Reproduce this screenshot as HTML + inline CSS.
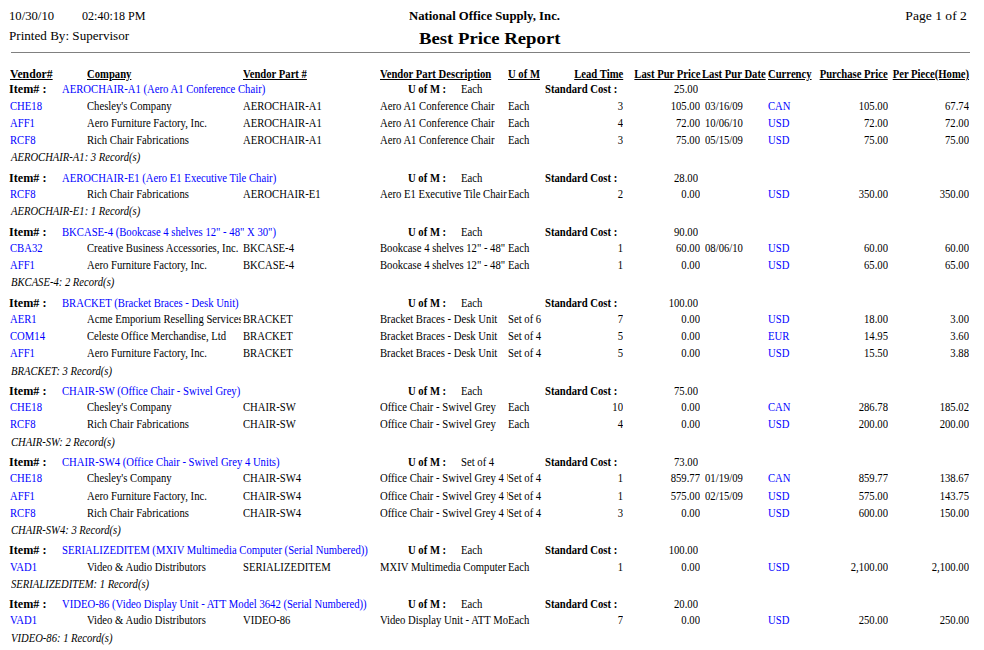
<!DOCTYPE html>
<html><head><meta charset="utf-8"><title>Best Price Report</title>
<style>
html,body{margin:0;padding:0;background:#fff}
body{width:984px;height:650px;overflow:hidden;position:relative;font-family:"Liberation Serif",serif;font-size:12px;line-height:12px;color:#000}
.t{position:absolute;white-space:pre}
.c{position:absolute;overflow:hidden}
.l{position:absolute}
</style></head><body>
<span class="t" style="left:8.5px;top:9.11px;font-size:13px;line-height:13px;transform:scaleX(0.975);transform-origin:0 0">10/30/10</span>
<span class="t" style="left:82px;top:9.11px;font-size:13px;line-height:13px;transform:scaleX(0.93);transform-origin:0 0">02:40:18 PM</span>
<span class="t" style="left:9px;top:29.11px;font-size:13px;line-height:13px;transform:scaleX(1.008);transform-origin:0 0">Printed By: Supervisor</span>
<span class="t" style="left:409px;top:9.11px;font-weight:bold;font-size:13px;line-height:13px;transform:scaleX(0.979);transform-origin:0 0">National Office Supply, Inc.</span>
<span class="t" style="left:419px;top:30.98px;font-weight:bold;font-size:16.5px;line-height:16.5px;transform:scaleX(1.135);transform-origin:0 0">Best Price Report</span>
<span class="t" style="right:17.5px;top:9.11px;font-size:13px;line-height:13px;transform:scaleX(1.045);transform-origin:100% 0">Page 1 of 2</span>
<div class="l" style="left:11px;top:52px;width:959px;height:1px;background:#808080"></div>
<span class="t" style="left:10px;top:67.95px;font-weight:bold;text-decoration:underline;transform:scaleX(0.978);transform-origin:0 0">Vendor#</span>
<span class="t" style="left:87px;top:67.95px;font-weight:bold;text-decoration:underline;transform:scaleX(0.8875);transform-origin:0 0">Company</span>
<span class="t" style="left:243px;top:67.95px;font-weight:bold;text-decoration:underline;transform:scaleX(0.8875);transform-origin:0 0">Vendor Part #</span>
<span class="t" style="left:380px;top:67.95px;font-weight:bold;text-decoration:underline;transform:scaleX(0.8875);transform-origin:0 0">Vendor Part Description</span>
<span class="t" style="left:508px;top:67.95px;font-weight:bold;text-decoration:underline;transform:scaleX(0.8875);transform-origin:0 0">U of M</span>
<span class="t" style="right:361px;top:67.95px;font-weight:bold;text-decoration:underline;transform:scaleX(0.8875);transform-origin:100% 0">Lead Time</span>
<span class="t" style="right:283.5px;top:67.95px;font-weight:bold;text-decoration:underline;transform:scaleX(0.8875);transform-origin:100% 0">Last Pur Price</span>
<span class="t" style="left:702px;top:67.95px;font-weight:bold;text-decoration:underline;transform:scaleX(0.8875);transform-origin:0 0">Last Pur Date</span>
<span class="t" style="left:768px;top:67.95px;font-weight:bold;text-decoration:underline;transform:scaleX(0.8875);transform-origin:0 0">Currency</span>
<span class="t" style="right:96px;top:67.95px;font-weight:bold;text-decoration:underline;transform:scaleX(0.8875);transform-origin:100% 0">Purchase Price</span>
<span class="t" style="right:15px;top:67.95px;font-weight:bold;text-decoration:underline;transform:scaleX(0.8875);transform-origin:100% 0">Per Piece(Home)</span>
<div class="l" style="left:699px;top:79px;width:4px;height:1px;background:#000"></div>
<span class="t" style="left:9px;top:82.95px;font-weight:bold;transform:scaleX(1.013);transform-origin:0 0">Item# :</span>
<span class="t" style="left:62px;top:82.95px;color:#0000ff;transform:scaleX(0.889);transform-origin:0 0">AEROCHAIR-A1 (Aero A1 Conference Chair)</span>
<span class="t" style="left:408px;top:82.95px;font-weight:bold;transform:scaleX(0.8875);transform-origin:0 0">U of M :</span>
<span class="t" style="left:461px;top:82.95px;;transform:scaleX(0.889);transform-origin:0 0">Each</span>
<span class="t" style="left:545px;top:82.95px;font-weight:bold;transform:scaleX(0.8875);transform-origin:0 0">Standard Cost :</span>
<span class="t" style="right:286px;top:82.95px;;transform:scaleX(0.889);transform-origin:100% 0">25.00</span>
<span class="t" style="left:10px;top:99.95px;color:#0000ff;transform:scaleX(0.889);transform-origin:0 0">CHE18</span>
<div class="c" style="left:87px;top:99.95px;width:154px;height:16px"><span class="t" style=";transform:scaleX(0.889);transform-origin:0 0;left:0;top:0">Chesley's Company</span></div>
<div class="c" style="left:243px;top:99.95px;width:137px;height:16px"><span class="t" style=";transform:scaleX(0.889);transform-origin:0 0;left:0;top:0">AEROCHAIR-A1</span></div>
<div class="c" style="left:380px;top:99.95px;width:127.5px;height:16px"><span class="t" style=";transform:scaleX(0.889);transform-origin:0 0;left:0;top:0">Aero A1 Conference Chair</span></div>
<span class="t" style="left:508px;top:99.95px;;transform:scaleX(0.889);transform-origin:0 0">Each</span>
<span class="t" style="right:361px;top:99.95px;;transform:scaleX(0.889);transform-origin:100% 0">3</span>
<span class="t" style="right:284px;top:99.95px;;transform:scaleX(0.889);transform-origin:100% 0">105.00</span>
<span class="t" style="left:705px;top:99.95px;;transform:scaleX(0.889);transform-origin:0 0">03/16/09</span>
<span class="t" style="left:768px;top:99.95px;color:#0000ff;transform:scaleX(0.889);transform-origin:0 0">CAN</span>
<span class="t" style="right:96px;top:99.95px;;transform:scaleX(0.889);transform-origin:100% 0">105.00</span>
<span class="t" style="right:15px;top:99.95px;;transform:scaleX(0.889);transform-origin:100% 0">67.74</span>
<span class="t" style="left:10px;top:116.95px;color:#0000ff;transform:scaleX(0.889);transform-origin:0 0">AFF1</span>
<div class="c" style="left:87px;top:116.95px;width:154px;height:16px"><span class="t" style=";transform:scaleX(0.889);transform-origin:0 0;left:0;top:0">Aero Furniture Factory, Inc.</span></div>
<div class="c" style="left:243px;top:116.95px;width:137px;height:16px"><span class="t" style=";transform:scaleX(0.889);transform-origin:0 0;left:0;top:0">AEROCHAIR-A1</span></div>
<div class="c" style="left:380px;top:116.95px;width:127.5px;height:16px"><span class="t" style=";transform:scaleX(0.889);transform-origin:0 0;left:0;top:0">Aero A1 Conference Chair</span></div>
<span class="t" style="left:508px;top:116.95px;;transform:scaleX(0.889);transform-origin:0 0">Each</span>
<span class="t" style="right:361px;top:116.95px;;transform:scaleX(0.889);transform-origin:100% 0">4</span>
<span class="t" style="right:284px;top:116.95px;;transform:scaleX(0.889);transform-origin:100% 0">72.00</span>
<span class="t" style="left:705px;top:116.95px;;transform:scaleX(0.889);transform-origin:0 0">10/06/10</span>
<span class="t" style="left:768px;top:116.95px;color:#0000ff;transform:scaleX(0.889);transform-origin:0 0">USD</span>
<span class="t" style="right:96px;top:116.95px;;transform:scaleX(0.889);transform-origin:100% 0">72.00</span>
<span class="t" style="right:15px;top:116.95px;;transform:scaleX(0.889);transform-origin:100% 0">72.00</span>
<span class="t" style="left:10px;top:133.95px;color:#0000ff;transform:scaleX(0.889);transform-origin:0 0">RCF8</span>
<div class="c" style="left:87px;top:133.95px;width:154px;height:16px"><span class="t" style=";transform:scaleX(0.889);transform-origin:0 0;left:0;top:0">Rich Chair Fabrications</span></div>
<div class="c" style="left:243px;top:133.95px;width:137px;height:16px"><span class="t" style=";transform:scaleX(0.889);transform-origin:0 0;left:0;top:0">AEROCHAIR-A1</span></div>
<div class="c" style="left:380px;top:133.95px;width:127.5px;height:16px"><span class="t" style=";transform:scaleX(0.889);transform-origin:0 0;left:0;top:0">Aero A1 Conference Chair</span></div>
<span class="t" style="left:508px;top:133.95px;;transform:scaleX(0.889);transform-origin:0 0">Each</span>
<span class="t" style="right:361px;top:133.95px;;transform:scaleX(0.889);transform-origin:100% 0">3</span>
<span class="t" style="right:284px;top:133.95px;;transform:scaleX(0.889);transform-origin:100% 0">75.00</span>
<span class="t" style="left:705px;top:133.95px;;transform:scaleX(0.889);transform-origin:0 0">05/15/09</span>
<span class="t" style="left:768px;top:133.95px;color:#0000ff;transform:scaleX(0.889);transform-origin:0 0">USD</span>
<span class="t" style="right:96px;top:133.95px;;transform:scaleX(0.889);transform-origin:100% 0">75.00</span>
<span class="t" style="right:15px;top:133.95px;;transform:scaleX(0.889);transform-origin:100% 0">75.00</span>
<span class="t" style="left:10.5px;top:150.95px;font-style:italic;transform:scaleX(0.884);transform-origin:0 0">AEROCHAIR-A1: 3 Record(s)</span>
<span class="t" style="left:9px;top:171.95px;font-weight:bold;transform:scaleX(1.013);transform-origin:0 0">Item# :</span>
<span class="t" style="left:62px;top:171.95px;color:#0000ff;transform:scaleX(0.889);transform-origin:0 0">AEROCHAIR-E1 (Aero E1 Executive Tile Chair)</span>
<span class="t" style="left:408px;top:171.95px;font-weight:bold;transform:scaleX(0.8875);transform-origin:0 0">U of M :</span>
<span class="t" style="left:461px;top:171.95px;;transform:scaleX(0.889);transform-origin:0 0">Each</span>
<span class="t" style="left:545px;top:171.95px;font-weight:bold;transform:scaleX(0.8875);transform-origin:0 0">Standard Cost :</span>
<span class="t" style="right:286px;top:171.95px;;transform:scaleX(0.889);transform-origin:100% 0">28.00</span>
<span class="t" style="left:10px;top:187.95px;color:#0000ff;transform:scaleX(0.889);transform-origin:0 0">RCF8</span>
<div class="c" style="left:87px;top:187.95px;width:154px;height:16px"><span class="t" style=";transform:scaleX(0.889);transform-origin:0 0;left:0;top:0">Rich Chair Fabrications</span></div>
<div class="c" style="left:243px;top:187.95px;width:137px;height:16px"><span class="t" style=";transform:scaleX(0.889);transform-origin:0 0;left:0;top:0">AEROCHAIR-E1</span></div>
<div class="c" style="left:380px;top:187.95px;width:127.5px;height:16px"><span class="t" style=";transform:scaleX(0.889);transform-origin:0 0;left:0;top:0">Aero E1 Executive Tile Chair</span></div>
<span class="t" style="left:508px;top:187.95px;;transform:scaleX(0.889);transform-origin:0 0">Each</span>
<span class="t" style="right:361px;top:187.95px;;transform:scaleX(0.889);transform-origin:100% 0">2</span>
<span class="t" style="right:284px;top:187.95px;;transform:scaleX(0.889);transform-origin:100% 0">0.00</span>
<span class="t" style="left:768px;top:187.95px;color:#0000ff;transform:scaleX(0.889);transform-origin:0 0">USD</span>
<span class="t" style="right:96px;top:187.95px;;transform:scaleX(0.889);transform-origin:100% 0">350.00</span>
<span class="t" style="right:15px;top:187.95px;;transform:scaleX(0.889);transform-origin:100% 0">350.00</span>
<span class="t" style="left:10.5px;top:204.95px;font-style:italic;transform:scaleX(0.884);transform-origin:0 0">AEROCHAIR-E1: 1 Record(s)</span>
<span class="t" style="left:9px;top:225.95px;font-weight:bold;transform:scaleX(1.013);transform-origin:0 0">Item# :</span>
<span class="t" style="left:62px;top:225.95px;color:#0000ff;transform:scaleX(0.889);transform-origin:0 0">BKCASE-4 (Bookcase 4 shelves 12" - 48" X 30")</span>
<span class="t" style="left:408px;top:225.95px;font-weight:bold;transform:scaleX(0.8875);transform-origin:0 0">U of M :</span>
<span class="t" style="left:461px;top:225.95px;;transform:scaleX(0.889);transform-origin:0 0">Each</span>
<span class="t" style="left:545px;top:225.95px;font-weight:bold;transform:scaleX(0.8875);transform-origin:0 0">Standard Cost :</span>
<span class="t" style="right:286px;top:225.95px;;transform:scaleX(0.889);transform-origin:100% 0">90.00</span>
<span class="t" style="left:10px;top:241.95px;color:#0000ff;transform:scaleX(0.889);transform-origin:0 0">CBA32</span>
<div class="c" style="left:87px;top:241.95px;width:154px;height:16px"><span class="t" style=";transform:scaleX(0.889);transform-origin:0 0;left:0;top:0">Creative Business Accessories, Inc.</span></div>
<div class="c" style="left:243px;top:241.95px;width:137px;height:16px"><span class="t" style=";transform:scaleX(0.889);transform-origin:0 0;left:0;top:0">BKCASE-4</span></div>
<div class="c" style="left:380px;top:241.95px;width:127.5px;height:16px"><span class="t" style=";transform:scaleX(0.889);transform-origin:0 0;left:0;top:0">Bookcase 4 shelves 12" - 48" X 30"</span></div>
<span class="t" style="left:508px;top:241.95px;;transform:scaleX(0.889);transform-origin:0 0">Each</span>
<span class="t" style="right:361px;top:241.95px;;transform:scaleX(0.889);transform-origin:100% 0">1</span>
<span class="t" style="right:284px;top:241.95px;;transform:scaleX(0.889);transform-origin:100% 0">60.00</span>
<span class="t" style="left:705px;top:241.95px;;transform:scaleX(0.889);transform-origin:0 0">08/06/10</span>
<span class="t" style="left:768px;top:241.95px;color:#0000ff;transform:scaleX(0.889);transform-origin:0 0">USD</span>
<span class="t" style="right:96px;top:241.95px;;transform:scaleX(0.889);transform-origin:100% 0">60.00</span>
<span class="t" style="right:15px;top:241.95px;;transform:scaleX(0.889);transform-origin:100% 0">60.00</span>
<span class="t" style="left:10px;top:258.95px;color:#0000ff;transform:scaleX(0.889);transform-origin:0 0">AFF1</span>
<div class="c" style="left:87px;top:258.95px;width:154px;height:16px"><span class="t" style=";transform:scaleX(0.889);transform-origin:0 0;left:0;top:0">Aero Furniture Factory, Inc.</span></div>
<div class="c" style="left:243px;top:258.95px;width:137px;height:16px"><span class="t" style=";transform:scaleX(0.889);transform-origin:0 0;left:0;top:0">BKCASE-4</span></div>
<div class="c" style="left:380px;top:258.95px;width:127.5px;height:16px"><span class="t" style=";transform:scaleX(0.889);transform-origin:0 0;left:0;top:0">Bookcase 4 shelves 12" - 48" X 30"</span></div>
<span class="t" style="left:508px;top:258.95px;;transform:scaleX(0.889);transform-origin:0 0">Each</span>
<span class="t" style="right:361px;top:258.95px;;transform:scaleX(0.889);transform-origin:100% 0">1</span>
<span class="t" style="right:284px;top:258.95px;;transform:scaleX(0.889);transform-origin:100% 0">0.00</span>
<span class="t" style="left:768px;top:258.95px;color:#0000ff;transform:scaleX(0.889);transform-origin:0 0">USD</span>
<span class="t" style="right:96px;top:258.95px;;transform:scaleX(0.889);transform-origin:100% 0">65.00</span>
<span class="t" style="right:15px;top:258.95px;;transform:scaleX(0.889);transform-origin:100% 0">65.00</span>
<span class="t" style="left:10.5px;top:275.95px;font-style:italic;transform:scaleX(0.884);transform-origin:0 0">BKCASE-4: 2 Record(s)</span>
<span class="t" style="left:9px;top:296.95px;font-weight:bold;transform:scaleX(1.013);transform-origin:0 0">Item# :</span>
<span class="t" style="left:62px;top:296.95px;color:#0000ff;transform:scaleX(0.889);transform-origin:0 0">BRACKET (Bracket Braces - Desk Unit)</span>
<span class="t" style="left:408px;top:296.95px;font-weight:bold;transform:scaleX(0.8875);transform-origin:0 0">U of M :</span>
<span class="t" style="left:461px;top:296.95px;;transform:scaleX(0.889);transform-origin:0 0">Each</span>
<span class="t" style="left:545px;top:296.95px;font-weight:bold;transform:scaleX(0.8875);transform-origin:0 0">Standard Cost :</span>
<span class="t" style="right:286px;top:296.95px;;transform:scaleX(0.889);transform-origin:100% 0">100.00</span>
<span class="t" style="left:10px;top:312.95px;color:#0000ff;transform:scaleX(0.889);transform-origin:0 0">AER1</span>
<div class="c" style="left:87px;top:312.95px;width:154px;height:16px"><span class="t" style=";transform:scaleX(0.889);transform-origin:0 0;left:0;top:0">Acme Emporium Reselling Services</span></div>
<div class="c" style="left:243px;top:312.95px;width:137px;height:16px"><span class="t" style=";transform:scaleX(0.889);transform-origin:0 0;left:0;top:0">BRACKET</span></div>
<div class="c" style="left:380px;top:312.95px;width:127.5px;height:16px"><span class="t" style=";transform:scaleX(0.889);transform-origin:0 0;left:0;top:0">Bracket Braces - Desk Unit</span></div>
<span class="t" style="left:508px;top:312.95px;;transform:scaleX(0.889);transform-origin:0 0">Set of 6</span>
<span class="t" style="right:361px;top:312.95px;;transform:scaleX(0.889);transform-origin:100% 0">7</span>
<span class="t" style="right:284px;top:312.95px;;transform:scaleX(0.889);transform-origin:100% 0">0.00</span>
<span class="t" style="left:768px;top:312.95px;color:#0000ff;transform:scaleX(0.889);transform-origin:0 0">USD</span>
<span class="t" style="right:96px;top:312.95px;;transform:scaleX(0.889);transform-origin:100% 0">18.00</span>
<span class="t" style="right:15px;top:312.95px;;transform:scaleX(0.889);transform-origin:100% 0">3.00</span>
<span class="t" style="left:10px;top:329.95px;color:#0000ff;transform:scaleX(0.889);transform-origin:0 0">COM14</span>
<div class="c" style="left:87px;top:329.95px;width:154px;height:16px"><span class="t" style=";transform:scaleX(0.889);transform-origin:0 0;left:0;top:0">Celeste Office Merchandise, Ltd</span></div>
<div class="c" style="left:243px;top:329.95px;width:137px;height:16px"><span class="t" style=";transform:scaleX(0.889);transform-origin:0 0;left:0;top:0">BRACKET</span></div>
<div class="c" style="left:380px;top:329.95px;width:127.5px;height:16px"><span class="t" style=";transform:scaleX(0.889);transform-origin:0 0;left:0;top:0">Bracket Braces - Desk Unit</span></div>
<span class="t" style="left:508px;top:329.95px;;transform:scaleX(0.889);transform-origin:0 0">Set of 4</span>
<span class="t" style="right:361px;top:329.95px;;transform:scaleX(0.889);transform-origin:100% 0">5</span>
<span class="t" style="right:284px;top:329.95px;;transform:scaleX(0.889);transform-origin:100% 0">0.00</span>
<span class="t" style="left:768px;top:329.95px;color:#0000ff;transform:scaleX(0.889);transform-origin:0 0">EUR</span>
<span class="t" style="right:96px;top:329.95px;;transform:scaleX(0.889);transform-origin:100% 0">14.95</span>
<span class="t" style="right:15px;top:329.95px;;transform:scaleX(0.889);transform-origin:100% 0">3.60</span>
<span class="t" style="left:10px;top:346.95px;color:#0000ff;transform:scaleX(0.889);transform-origin:0 0">AFF1</span>
<div class="c" style="left:87px;top:346.95px;width:154px;height:16px"><span class="t" style=";transform:scaleX(0.889);transform-origin:0 0;left:0;top:0">Aero Furniture Factory, Inc.</span></div>
<div class="c" style="left:243px;top:346.95px;width:137px;height:16px"><span class="t" style=";transform:scaleX(0.889);transform-origin:0 0;left:0;top:0">BRACKET</span></div>
<div class="c" style="left:380px;top:346.95px;width:127.5px;height:16px"><span class="t" style=";transform:scaleX(0.889);transform-origin:0 0;left:0;top:0">Bracket Braces - Desk Unit</span></div>
<span class="t" style="left:508px;top:346.95px;;transform:scaleX(0.889);transform-origin:0 0">Set of 4</span>
<span class="t" style="right:361px;top:346.95px;;transform:scaleX(0.889);transform-origin:100% 0">5</span>
<span class="t" style="right:284px;top:346.95px;;transform:scaleX(0.889);transform-origin:100% 0">0.00</span>
<span class="t" style="left:768px;top:346.95px;color:#0000ff;transform:scaleX(0.889);transform-origin:0 0">USD</span>
<span class="t" style="right:96px;top:346.95px;;transform:scaleX(0.889);transform-origin:100% 0">15.50</span>
<span class="t" style="right:15px;top:346.95px;;transform:scaleX(0.889);transform-origin:100% 0">3.88</span>
<span class="t" style="left:10.5px;top:364.95px;font-style:italic;transform:scaleX(0.884);transform-origin:0 0">BRACKET: 3 Record(s)</span>
<span class="t" style="left:9px;top:384.95px;font-weight:bold;transform:scaleX(1.013);transform-origin:0 0">Item# :</span>
<span class="t" style="left:62px;top:384.95px;color:#0000ff;transform:scaleX(0.889);transform-origin:0 0">CHAIR-SW (Office Chair - Swivel Grey)</span>
<span class="t" style="left:408px;top:384.95px;font-weight:bold;transform:scaleX(0.8875);transform-origin:0 0">U of M :</span>
<span class="t" style="left:461px;top:384.95px;;transform:scaleX(0.889);transform-origin:0 0">Each</span>
<span class="t" style="left:545px;top:384.95px;font-weight:bold;transform:scaleX(0.8875);transform-origin:0 0">Standard Cost :</span>
<span class="t" style="right:286px;top:384.95px;;transform:scaleX(0.889);transform-origin:100% 0">75.00</span>
<span class="t" style="left:10px;top:400.95px;color:#0000ff;transform:scaleX(0.889);transform-origin:0 0">CHE18</span>
<div class="c" style="left:87px;top:400.95px;width:154px;height:16px"><span class="t" style=";transform:scaleX(0.889);transform-origin:0 0;left:0;top:0">Chesley's Company</span></div>
<div class="c" style="left:243px;top:400.95px;width:137px;height:16px"><span class="t" style=";transform:scaleX(0.889);transform-origin:0 0;left:0;top:0">CHAIR-SW</span></div>
<div class="c" style="left:380px;top:400.95px;width:127.5px;height:16px"><span class="t" style=";transform:scaleX(0.889);transform-origin:0 0;left:0;top:0">Office Chair - Swivel Grey</span></div>
<span class="t" style="left:508px;top:400.95px;;transform:scaleX(0.889);transform-origin:0 0">Each</span>
<span class="t" style="right:361px;top:400.95px;;transform:scaleX(0.889);transform-origin:100% 0">10</span>
<span class="t" style="right:284px;top:400.95px;;transform:scaleX(0.889);transform-origin:100% 0">0.00</span>
<span class="t" style="left:768px;top:400.95px;color:#0000ff;transform:scaleX(0.889);transform-origin:0 0">CAN</span>
<span class="t" style="right:96px;top:400.95px;;transform:scaleX(0.889);transform-origin:100% 0">286.78</span>
<span class="t" style="right:15px;top:400.95px;;transform:scaleX(0.889);transform-origin:100% 0">185.02</span>
<span class="t" style="left:10px;top:417.95px;color:#0000ff;transform:scaleX(0.889);transform-origin:0 0">RCF8</span>
<div class="c" style="left:87px;top:417.95px;width:154px;height:16px"><span class="t" style=";transform:scaleX(0.889);transform-origin:0 0;left:0;top:0">Rich Chair Fabrications</span></div>
<div class="c" style="left:243px;top:417.95px;width:137px;height:16px"><span class="t" style=";transform:scaleX(0.889);transform-origin:0 0;left:0;top:0">CHAIR-SW</span></div>
<div class="c" style="left:380px;top:417.95px;width:127.5px;height:16px"><span class="t" style=";transform:scaleX(0.889);transform-origin:0 0;left:0;top:0">Office Chair - Swivel Grey</span></div>
<span class="t" style="left:508px;top:417.95px;;transform:scaleX(0.889);transform-origin:0 0">Each</span>
<span class="t" style="right:361px;top:417.95px;;transform:scaleX(0.889);transform-origin:100% 0">4</span>
<span class="t" style="right:284px;top:417.95px;;transform:scaleX(0.889);transform-origin:100% 0">0.00</span>
<span class="t" style="left:768px;top:417.95px;color:#0000ff;transform:scaleX(0.889);transform-origin:0 0">USD</span>
<span class="t" style="right:96px;top:417.95px;;transform:scaleX(0.889);transform-origin:100% 0">200.00</span>
<span class="t" style="right:15px;top:417.95px;;transform:scaleX(0.889);transform-origin:100% 0">200.00</span>
<span class="t" style="left:10.5px;top:435.95px;font-style:italic;transform:scaleX(0.884);transform-origin:0 0">CHAIR-SW: 2 Record(s)</span>
<span class="t" style="left:9px;top:455.95px;font-weight:bold;transform:scaleX(1.013);transform-origin:0 0">Item# :</span>
<span class="t" style="left:62px;top:455.95px;color:#0000ff;transform:scaleX(0.889);transform-origin:0 0">CHAIR-SW4 (Office Chair - Swivel Grey 4 Units)</span>
<span class="t" style="left:408px;top:455.95px;font-weight:bold;transform:scaleX(0.8875);transform-origin:0 0">U of M :</span>
<span class="t" style="left:461px;top:455.95px;;transform:scaleX(0.889);transform-origin:0 0">Set of 4</span>
<span class="t" style="left:545px;top:455.95px;font-weight:bold;transform:scaleX(0.8875);transform-origin:0 0">Standard Cost :</span>
<span class="t" style="right:286px;top:455.95px;;transform:scaleX(0.889);transform-origin:100% 0">73.00</span>
<span class="t" style="left:10px;top:471.95px;color:#0000ff;transform:scaleX(0.889);transform-origin:0 0">CHE18</span>
<div class="c" style="left:87px;top:471.95px;width:154px;height:16px"><span class="t" style=";transform:scaleX(0.889);transform-origin:0 0;left:0;top:0">Chesley's Company</span></div>
<div class="c" style="left:243px;top:471.95px;width:137px;height:16px"><span class="t" style=";transform:scaleX(0.889);transform-origin:0 0;left:0;top:0">CHAIR-SW4</span></div>
<div class="c" style="left:380px;top:471.95px;width:127.5px;height:16px"><span class="t" style=";transform:scaleX(0.889);transform-origin:0 0;left:0;top:0">Office Chair - Swivel Grey 4 Units</span></div>
<span class="t" style="left:508px;top:471.95px;;transform:scaleX(0.889);transform-origin:0 0">Set of 4</span>
<span class="t" style="right:361px;top:471.95px;;transform:scaleX(0.889);transform-origin:100% 0">1</span>
<span class="t" style="right:284px;top:471.95px;;transform:scaleX(0.889);transform-origin:100% 0">859.77</span>
<span class="t" style="left:705px;top:471.95px;;transform:scaleX(0.889);transform-origin:0 0">01/19/09</span>
<span class="t" style="left:768px;top:471.95px;color:#0000ff;transform:scaleX(0.889);transform-origin:0 0">CAN</span>
<span class="t" style="right:96px;top:471.95px;;transform:scaleX(0.889);transform-origin:100% 0">859.77</span>
<span class="t" style="right:15px;top:471.95px;;transform:scaleX(0.889);transform-origin:100% 0">138.67</span>
<span class="t" style="left:10px;top:489.95px;color:#0000ff;transform:scaleX(0.889);transform-origin:0 0">AFF1</span>
<div class="c" style="left:87px;top:489.95px;width:154px;height:16px"><span class="t" style=";transform:scaleX(0.889);transform-origin:0 0;left:0;top:0">Aero Furniture Factory, Inc.</span></div>
<div class="c" style="left:243px;top:489.95px;width:137px;height:16px"><span class="t" style=";transform:scaleX(0.889);transform-origin:0 0;left:0;top:0">CHAIR-SW4</span></div>
<div class="c" style="left:380px;top:489.95px;width:127.5px;height:16px"><span class="t" style=";transform:scaleX(0.889);transform-origin:0 0;left:0;top:0">Office Chair - Swivel Grey 4 Units</span></div>
<span class="t" style="left:508px;top:489.95px;;transform:scaleX(0.889);transform-origin:0 0">Set of 4</span>
<span class="t" style="right:361px;top:489.95px;;transform:scaleX(0.889);transform-origin:100% 0">1</span>
<span class="t" style="right:284px;top:489.95px;;transform:scaleX(0.889);transform-origin:100% 0">575.00</span>
<span class="t" style="left:705px;top:489.95px;;transform:scaleX(0.889);transform-origin:0 0">02/15/09</span>
<span class="t" style="left:768px;top:489.95px;color:#0000ff;transform:scaleX(0.889);transform-origin:0 0">USD</span>
<span class="t" style="right:96px;top:489.95px;;transform:scaleX(0.889);transform-origin:100% 0">575.00</span>
<span class="t" style="right:15px;top:489.95px;;transform:scaleX(0.889);transform-origin:100% 0">143.75</span>
<span class="t" style="left:10px;top:506.95px;color:#0000ff;transform:scaleX(0.889);transform-origin:0 0">RCF8</span>
<div class="c" style="left:87px;top:506.95px;width:154px;height:16px"><span class="t" style=";transform:scaleX(0.889);transform-origin:0 0;left:0;top:0">Rich Chair Fabrications</span></div>
<div class="c" style="left:243px;top:506.95px;width:137px;height:16px"><span class="t" style=";transform:scaleX(0.889);transform-origin:0 0;left:0;top:0">CHAIR-SW4</span></div>
<div class="c" style="left:380px;top:506.95px;width:127.5px;height:16px"><span class="t" style=";transform:scaleX(0.889);transform-origin:0 0;left:0;top:0">Office Chair - Swivel Grey 4 Units</span></div>
<span class="t" style="left:508px;top:506.95px;;transform:scaleX(0.889);transform-origin:0 0">Set of 4</span>
<span class="t" style="right:361px;top:506.95px;;transform:scaleX(0.889);transform-origin:100% 0">3</span>
<span class="t" style="right:284px;top:506.95px;;transform:scaleX(0.889);transform-origin:100% 0">0.00</span>
<span class="t" style="left:768px;top:506.95px;color:#0000ff;transform:scaleX(0.889);transform-origin:0 0">USD</span>
<span class="t" style="right:96px;top:506.95px;;transform:scaleX(0.889);transform-origin:100% 0">600.00</span>
<span class="t" style="right:15px;top:506.95px;;transform:scaleX(0.889);transform-origin:100% 0">150.00</span>
<span class="t" style="left:10.5px;top:523.95px;font-style:italic;transform:scaleX(0.884);transform-origin:0 0">CHAIR-SW4: 3 Record(s)</span>
<span class="t" style="left:9px;top:543.95px;font-weight:bold;transform:scaleX(1.013);transform-origin:0 0">Item# :</span>
<span class="t" style="left:62px;top:543.95px;color:#0000ff;transform:scaleX(0.889);transform-origin:0 0">SERIALIZEDITEM (MXIV Multimedia Computer (Serial Numbered))</span>
<span class="t" style="left:408px;top:543.95px;font-weight:bold;transform:scaleX(0.8875);transform-origin:0 0">U of M :</span>
<span class="t" style="left:461px;top:543.95px;;transform:scaleX(0.889);transform-origin:0 0">Each</span>
<span class="t" style="left:545px;top:543.95px;font-weight:bold;transform:scaleX(0.8875);transform-origin:0 0">Standard Cost :</span>
<span class="t" style="right:286px;top:543.95px;;transform:scaleX(0.889);transform-origin:100% 0">100.00</span>
<span class="t" style="left:10px;top:560.95px;color:#0000ff;transform:scaleX(0.889);transform-origin:0 0">VAD1</span>
<div class="c" style="left:87px;top:560.95px;width:154px;height:16px"><span class="t" style=";transform:scaleX(0.889);transform-origin:0 0;left:0;top:0">Video &amp; Audio Distributors</span></div>
<div class="c" style="left:243px;top:560.95px;width:137px;height:16px"><span class="t" style=";transform:scaleX(0.889);transform-origin:0 0;left:0;top:0">SERIALIZEDITEM</span></div>
<div class="c" style="left:380px;top:560.95px;width:127.5px;height:16px"><span class="t" style=";transform:scaleX(0.889);transform-origin:0 0;left:0;top:0">MXIV Multimedia Computer (Serial Numbered)</span></div>
<span class="t" style="left:508px;top:560.95px;;transform:scaleX(0.889);transform-origin:0 0">Each</span>
<span class="t" style="right:361px;top:560.95px;;transform:scaleX(0.889);transform-origin:100% 0">1</span>
<span class="t" style="right:284px;top:560.95px;;transform:scaleX(0.889);transform-origin:100% 0">0.00</span>
<span class="t" style="left:768px;top:560.95px;color:#0000ff;transform:scaleX(0.889);transform-origin:0 0">USD</span>
<span class="t" style="right:96px;top:560.95px;;transform:scaleX(0.889);transform-origin:100% 0">2,100.00</span>
<span class="t" style="right:15px;top:560.95px;;transform:scaleX(0.889);transform-origin:100% 0">2,100.00</span>
<span class="t" style="left:10.5px;top:577.95px;font-style:italic;transform:scaleX(0.884);transform-origin:0 0">SERIALIZEDITEM: 1 Record(s)</span>
<span class="t" style="left:9px;top:597.95px;font-weight:bold;transform:scaleX(1.013);transform-origin:0 0">Item# :</span>
<span class="t" style="left:62px;top:597.95px;color:#0000ff;transform:scaleX(0.889);transform-origin:0 0">VIDEO-86 (Video Display Unit - ATT Model 3642 (Serial Numbered))</span>
<span class="t" style="left:408px;top:597.95px;font-weight:bold;transform:scaleX(0.8875);transform-origin:0 0">U of M :</span>
<span class="t" style="left:461px;top:597.95px;;transform:scaleX(0.889);transform-origin:0 0">Each</span>
<span class="t" style="left:545px;top:597.95px;font-weight:bold;transform:scaleX(0.8875);transform-origin:0 0">Standard Cost :</span>
<span class="t" style="right:286px;top:597.95px;;transform:scaleX(0.889);transform-origin:100% 0">20.00</span>
<span class="t" style="left:10px;top:613.95px;color:#0000ff;transform:scaleX(0.889);transform-origin:0 0">VAD1</span>
<div class="c" style="left:87px;top:613.95px;width:154px;height:16px"><span class="t" style=";transform:scaleX(0.889);transform-origin:0 0;left:0;top:0">Video &amp; Audio Distributors</span></div>
<div class="c" style="left:243px;top:613.95px;width:137px;height:16px"><span class="t" style=";transform:scaleX(0.889);transform-origin:0 0;left:0;top:0">VIDEO-86</span></div>
<div class="c" style="left:380px;top:613.95px;width:127.5px;height:16px"><span class="t" style=";transform:scaleX(0.889);transform-origin:0 0;left:0;top:0">Video Display Unit - ATT Model 3642 (Serial Numbered)</span></div>
<span class="t" style="left:508px;top:613.95px;;transform:scaleX(0.889);transform-origin:0 0">Each</span>
<span class="t" style="right:361px;top:613.95px;;transform:scaleX(0.889);transform-origin:100% 0">7</span>
<span class="t" style="right:284px;top:613.95px;;transform:scaleX(0.889);transform-origin:100% 0">0.00</span>
<span class="t" style="left:768px;top:613.95px;color:#0000ff;transform:scaleX(0.889);transform-origin:0 0">USD</span>
<span class="t" style="right:96px;top:613.95px;;transform:scaleX(0.889);transform-origin:100% 0">250.00</span>
<span class="t" style="right:15px;top:613.95px;;transform:scaleX(0.889);transform-origin:100% 0">250.00</span>
<span class="t" style="left:10.5px;top:631.95px;font-style:italic;transform:scaleX(0.884);transform-origin:0 0">VIDEO-86: 1 Record(s)</span>
</body></html>
